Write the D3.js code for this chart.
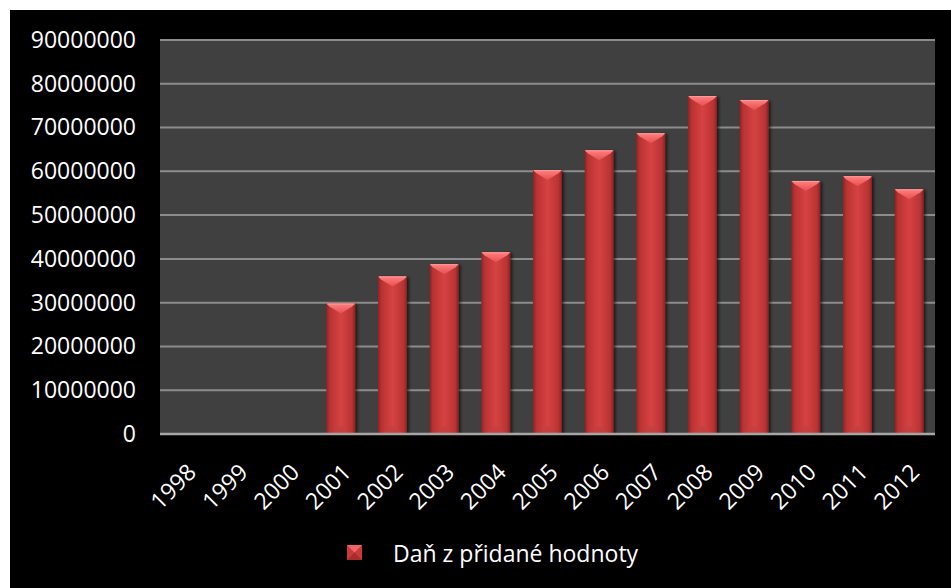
<!DOCTYPE html>
<html><head><meta charset="utf-8">
<script src="https://cdn.jsdelivr.net/npm/d3@7"></script>
<style>html,body{margin:0;padding:0;background:#fff;}svg{display:block;}</style>
</head><body>
<script>
const categories = ["1998","1999","2000","2001","2002","2003","2004","2005","2006","2007","2008","2009","2010","2011","2012"];
const values = [null,null,null,29800000,36000000,38800000,41500000,60300000,64800000,68700000,77200000,76300000,57800000,58900000,55900000];
const yTicks = [0,10000000,20000000,30000000,40000000,50000000,60000000,70000000,80000000,90000000];
const seriesName = "Daň z přidané hodnoty";

const W = 951, H = 588;
const m = {left:160, right:935, top:40, bottom:434};
const font = "'Open Sans', sans-serif";

const svg = d3.select("body").append("svg").attr("width",W).attr("height",H);
const defs = svg.append("defs");
const g1 = defs.append("linearGradient").attr("id","barG").attr("x1","0").attr("x2","1").attr("y1","0").attr("y2","0");
[[0,"#8e2424"],[0.12,"#b93333"],[0.5,"#d64242"],[0.88,"#b93333"],[1,"#8a2222"]].forEach(s=>g1.append("stop").attr("offset",s[0]).attr("stop-color",s[1]));
const g2 = defs.append("linearGradient").attr("id","topG").attr("x1","0").attr("x2","0").attr("y1","0").attr("y2","1");
[[0,"#ff8080"],[1,"#e65050"]].forEach(s=>g2.append("stop").attr("offset",s[0]).attr("stop-color",s[1]));
const f = defs.append("filter").attr("id","sh").attr("x","-20%").attr("y","-5%").attr("width","150%").attr("height","115%");
f.append("feDropShadow").attr("dx",2).attr("dy",1).attr("stdDeviation",1.5).attr("flood-color","#000").attr("flood-opacity",0.6);

svg.append("rect").attr("x",10).attr("y",10).attr("width",W-10).attr("height",H-10).attr("fill","#000");

const x = d3.scaleBand().domain(categories).range([m.left,m.right]).paddingInner(0.44).paddingOuter(0.22);
const y = d3.scaleLinear().domain([0,90000000]).range([m.bottom,m.top]);

svg.append("rect").attr("x",m.left).attr("y",m.top).attr("width",m.right-m.left).attr("height",m.bottom-m.top).attr("fill","#404040");

// gridlines
svg.append("g").selectAll("line").data(yTicks.filter(d=>d>0)).join("line")
  .attr("x1",m.left).attr("x2",m.right).attr("y1",d=>y(d)).attr("y2",d=>y(d))
  .attr("stroke","#8c8c8c").attr("stroke-width",2);

// y axis labels
const yAxis = d3.axisLeft(y).tickValues(yTicks).tickSize(0).tickPadding(0).tickFormat(d=>String(d));
const ya = svg.append("g").attr("transform",`translate(136,0)`).call(yAxis);
ya.select(".domain").remove();
ya.selectAll("text").attr("fill","#fff").style("font-family",font).style("font-size","23px");

// bars
const data = categories.map((c,i)=>({c,v:values[i]})).filter(d=>d.v!=null);
const bw = x.bandwidth();
const bars = svg.append("g").selectAll("g").data(data).join("g").attr("filter","url(#sh)");
bars.append("rect").attr("x",d=>x(d.c)).attr("y",d=>y(d.v)).attr("width",bw).attr("height",d=>y(0)-y(d.v)).attr("fill","url(#barG)");
// top bevel
bars.append("path").attr("d",d=>{const x0=x(d.c),x1=x0+bw,y0=y(d.v),b=10;
  return `M${x0},${y0}L${x1},${y0}L${x1-3},${y0+3}L${x0+bw/2},${y0+b}L${x0+3},${y0+3}Z`;}).attr("fill","url(#topG)");
bars.append("path").attr("d",d=>{const x0=x(d.c),x1=x0+bw,y0=y(d.v);
  return `M${x0+1},${y0+0.5}L${x1-1},${y0+0.5}`;}).attr("stroke","#ff9a9a").attr("stroke-width",1);
// bottom bevel
bars.append("path").attr("d",d=>{const x0=x(d.c),x1=x0+bw,yb=y(0);
  return `M${x0+3},${yb}L${x0+bw/2},${yb-8}L${x1-3},${yb}Z`;}).attr("fill","#c04040").attr("opacity",0.8);

// baseline
svg.append("line").attr("x1",m.left).attr("x2",m.right).attr("y1",m.bottom).attr("y2",m.bottom).attr("stroke","#a6a6a6").attr("stroke-width",2.5);

// x labels
const xAxis = d3.axisBottom(x).tickSize(0).tickPadding(0);
const xa = svg.append("g").attr("transform",`translate(0,${m.bottom})`).call(xAxis);
xa.select(".domain").remove();
xa.selectAll("text").attr("fill","#fff").style("font-family",font).style("font-size","23px")
  .attr("text-anchor","end").attr("dy","0.35em").attr("y",0)
  .attr("transform","translate(6,34) rotate(-45)");

// legend
const lg = svg.append("g").attr("transform","translate(347,545)");
lg.append("rect").attr("width",15).attr("height",15).attr("fill","#c83a3a");
lg.append("path").attr("d","M0,0L15,0L7.5,7.5Z").attr("fill","#f06464");
lg.append("path").attr("d","M0,15L15,15L7.5,7.5Z").attr("fill","#a82c2c");
lg.append("text").attr("x",46).attr("y",16.5).attr("fill","#fff").style("font-family",font).style("font-size","23px").text(seriesName);
</script>
</body></html>
